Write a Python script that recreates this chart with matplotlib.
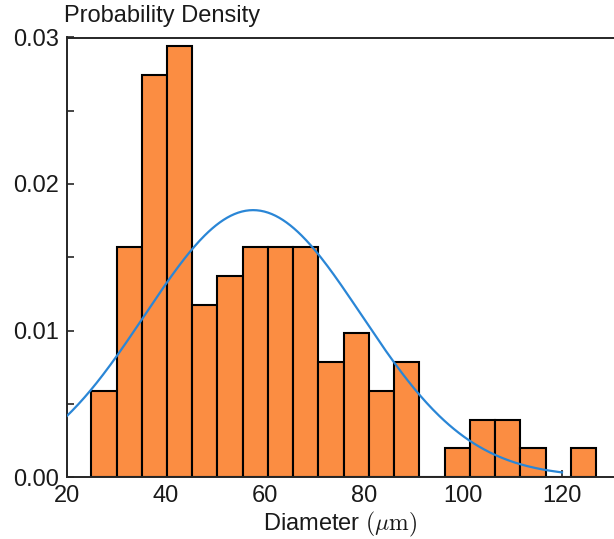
import numpy as np
import matplotlib
matplotlib.use("Agg")
import matplotlib.pyplot as plt
from matplotlib.ticker import MultipleLocator

plt.rcParams['font.family'] = ['Liberation Sans', 'DejaVu Sans']
plt.rcParams['mathtext.fontset'] = 'cm'

# Histogram data (counts per bin, N = 100), bins start at 24.9 with width 5.1
bin_start = 24.9
bin_width = 5.1
counts = [3, 8, 14, 15, 6, 7, 8, 8, 8, 4, 5, 3, 4, 0, 1, 2, 2, 1, 0, 1]
n_total = 100
# Fitted normal curve parameters
mu = 57.6
sigma = 21.9
curve_range = [20, 120]

x_ticks = [20, 40, 60, 80, 100, 120]
y_ticks = [0.00, 0.01, 0.02, 0.03]
y_ticklabels = ['0.00', '0.01', '0.02', '0.03']

edges = bin_start + bin_width * np.arange(len(counts) + 1)
density = np.array(counts) / (n_total * bin_width)

fig = plt.figure(figsize=(6.14, 5.39), dpi=100)
ax = fig.add_axes([67/614, 1 - 477/539, 547/614, (477 - 37.5)/539])

ax.bar(edges[:-1], density, width=bin_width, align='edge',
       color='#FB8D42', edgecolor='black', linewidth=1.5, zorder=2)

xs = np.linspace(curve_range[0], curve_range[1], 400)
ys = np.exp(-0.5 * ((xs - mu) / sigma) ** 2) / (sigma * np.sqrt(2 * np.pi))
ax.plot(xs, ys, color='#2A86D6', linewidth=1.6, zorder=3)

ax.set_xlim(20, 20 + 547/4.95)
ax.set_ylim(0, 0.03)
ax.set_xticks(x_ticks)
ax.set_yticks(y_ticks)
ax.set_yticklabels(y_ticklabels)
ax.yaxis.set_minor_locator(MultipleLocator(0.005))

for side in ['left', 'bottom', 'top']:
    ax.spines[side].set_color('#262626')
    ax.spines[side].set_linewidth(1.4)
ax.spines['right'].set_visible(False)

ax.tick_params(axis='both', which='both', direction='in', color='#262626',
               labelsize=17, width=1.2, labelcolor='#1a1a1a')
ax.tick_params(axis='both', which='major', length=5)
ax.tick_params(axis='y', which='minor', length=5)
ax.tick_params(axis='x', pad=6)
ax.tick_params(axis='y', pad=6)

ax.set_xlabel('Diameter $(\\mu\\mathrm{m})$', fontsize=17, labelpad=2, color='#1a1a1a')
fig.text(64/614, 1 - 16/539, 'Probability Density', fontsize=17,
         ha='left', va='center', color='#1a1a1a')

fig.savefig('out.png', dpi=100)
